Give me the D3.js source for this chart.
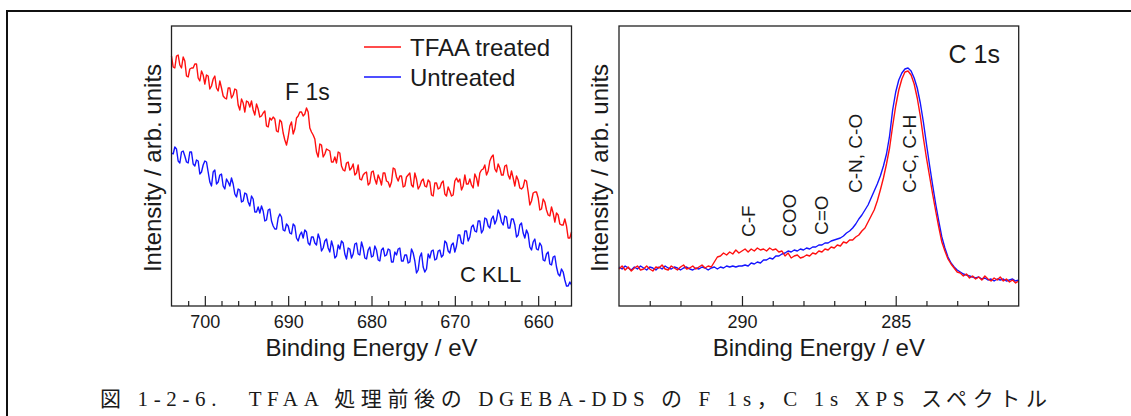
<!DOCTYPE html>
<html>
<head>
<meta charset="utf-8">
<script src="https://cdn.jsdelivr.net/npm/d3@7"></script>
<style>
body { margin: 0; background: #fff; }
svg text { font-family: "Liberation Sans", Arial, sans-serif; fill: #1a1a1a; }
</style>
</head>
<body>
<div id="chart"></div>
<script>
const width = 1131, height = 416

// F 1s / C KLL region : 704 -> 656 eV, 0.2 eV step
const f1sStart = 704
const f1sStep = 0.2
const f1sTreated = [
	250, 239, 238, 250, 251, 241, 238, 249, 245, 230, 229, 237, 238, 238, 242, 242, 228, 225, 235, 231,
	222, 231, 230, 217, 220, 227, 230, 218, 215, 225, 218, 210, 208, 207, 218, 218, 208, 211, 217, 216,
	201, 196, 207, 203, 194, 205, 204, 199, 205, 196, 191, 202, 197, 189, 190, 193, 195, 180, 179, 188,
	186, 189, 187, 175, 174, 186, 184, 173, 166, 161, 169, 180, 184, 172, 177, 188, 190, 194, 194, 190,
	192, 198, 194, 178, 174, 171, 167, 154, 149, 162, 161, 149, 152, 157, 156, 155, 144, 144, 149, 143,
	154, 153, 140, 136, 135, 143, 144, 136, 138, 142, 131, 133, 141, 127, 126, 131, 133, 134, 121, 123,
	134, 135, 127, 122, 131, 127, 121, 133, 133, 125, 124, 119, 124, 138, 137, 129, 125, 130, 130, 119,
	120, 129, 131, 133, 121, 119, 133, 127, 117, 120, 125, 127, 120, 119, 126, 124, 111, 110, 123, 123,
	117, 118, 123, 125, 112, 110, 119, 115, 110, 111, 125, 128, 124, 127, 116, 120, 131, 122, 122, 127,
	121, 118, 132, 128, 120, 133, 136, 137, 141, 131, 135, 145, 149, 151, 137, 134, 142, 138, 131, 131,
	140, 141, 131, 127, 135, 128, 120, 130, 126, 118, 117, 119, 126, 125, 114, 101, 105, 113, 114, 114,
	108, 96, 97, 107, 104, 96, 91, 90, 99, 93, 84, 93, 91, 82, 81, 81, 87, 80, 68, 68,
	74
]
const f1sUntreated = [
	153, 152, 159, 157, 145, 143, 154, 155, 150, 144, 143, 154, 154, 142, 140, 146, 145, 132, 134, 141,
	145, 144, 134, 124, 120, 134, 136, 122, 124, 131, 132, 120, 117, 127, 124, 120, 128, 122, 112, 109,
	117, 116, 104, 105, 113, 112, 104, 100, 110, 107, 94, 94, 99, 93, 100, 95, 85, 86, 96, 97,
	85, 80, 77, 77, 88, 92, 89, 76, 75, 82, 80, 73, 72, 82, 80, 68, 65, 71, 74, 68,
	76, 74, 63, 61, 69, 69, 63, 61, 72, 67, 55, 58, 65, 67, 58, 54, 65, 59, 48, 50,
	61, 57, 65, 63, 52, 47, 58, 57, 48, 52, 62, 63, 52, 51, 64, 58, 48, 47, 56, 59,
	49, 50, 60, 56, 46, 45, 56, 58, 50, 51, 57, 56, 44, 44, 54, 51, 57, 58, 45, 45,
	51, 51, 43, 44, 57, 53, 45, 33, 36, 49, 53, 39, 34, 37, 52, 48, 55, 56, 46, 47,
	55, 56, 49, 51, 65, 63, 55, 53, 61, 63, 54, 60, 71, 71, 63, 62, 75, 75, 65, 69,
	79, 81, 75, 74, 85, 85, 73, 76, 88, 87, 80, 78, 87, 90, 82, 86, 96, 92, 84, 81,
	90, 89, 78, 78, 87, 87, 81, 69, 71, 81, 83, 73, 68, 76, 72, 59, 56, 64, 67, 57,
	56, 63, 60, 46, 45, 52, 54, 42, 41, 49, 50, 39, 32, 30, 37, 34, 26, 20, 20, 24,
	21
]

// C 1s region : 294 -> 281 eV, 0.1 eV step
const c1sStart = 294
const c1sStep = 0.1
const c1sTreated = [
	37, 40, 36, 39, 35, 38, 40, 36, 37, 40, 37, 35, 39, 38, 41, 37, 36, 40, 38, 36,
	39, 41, 37, 38, 40, 37, 39, 41, 38, 40, 39, 44, 49, 50, 53, 51, 54, 52, 56, 53,
	55, 57, 54, 57, 55, 58, 56, 57, 55, 58, 56, 57, 54, 55, 50, 53, 48, 50, 51, 48,
	49, 51, 50, 53, 52, 55, 54, 57, 56, 59, 58, 61, 60, 64, 63, 66, 66, 69, 71, 75,
	78, 84, 90, 96, 105, 116, 128, 142, 158, 180, 200, 216, 227, 234, 235, 231, 222, 208, 190, 168,
	148, 130, 112, 95, 79, 64, 55, 47, 42, 38, 34, 33, 30, 32, 28, 30, 27, 29, 26, 30,
	27, 25, 28, 26, 29, 25, 27, 24, 26, 23, 25
]
const c1sUntreated = [
	39, 37, 40, 38, 36, 39, 37, 40, 38, 36, 39, 38, 36, 39, 37, 40, 38, 37, 39, 38,
	36, 38, 39, 37, 36, 38, 37, 39, 38, 36, 38, 39, 37, 39, 38, 40, 39, 40, 39, 40,
	40, 41, 40, 43, 42, 44, 43, 46, 46, 48, 47, 50, 50, 52, 53, 55, 54, 56, 55, 57,
	56, 58, 57, 59, 59, 61, 61, 63, 63, 65, 66, 67, 68, 70, 73, 75, 78, 82, 87, 91,
	96, 101, 108, 115, 122, 130, 140, 152, 170, 196, 214, 226, 233, 237, 238, 235, 228, 218, 203, 184,
	162, 141, 121, 102, 85, 69, 58, 49, 43, 39, 36, 34, 32, 31, 30, 29, 28, 29, 27, 28,
	26, 27, 25, 27, 26, 27, 25, 26, 27, 25, 26
]

const f1sMajor = [700, 690, 680, 670, 660]
const f1sMinor = [702, 698, 696, 694, 692, 688, 686, 684, 682, 678, 676, 674, 672, 668, 666, 664, 662, 658]
const c1sMajor = [290, 285]
const c1sMinor = [293, 292, 291, 289, 288, 287, 286, 284, 283, 282]

const seriesNames = ['TFAA treated', 'Untreated']

// chemical state labels on the C 1s panel (energy of label, intensity where label starts)
const peakLabels = ['C-F', 'COO', 'C=O', 'C-N, C-O', 'C-C, C-H']
const peakEnergies = [289.8, 288.48, 287.44, 286.32, 284.56]
const peakLabelBase = [69, 69, 71, 113, 113]

const caption = '図 1-2-6.　TFAA 処理前後の DGEBA-DDS の F 1s，C 1s XPS スペクトル'

const red = '#ff1010'
const blue = '#1414ff'

const toPoints = (start, step, values) => values.map((v, i) => [start - i * step, v])

const svg = d3.select('#chart')
.append('svg')
.attr('width', width)
.attr('height', height)

// outer figure frame (runs off the right and bottom of the picture)
svg.append('path')
.attr('d', 'M7,417 L7,11 L1135,11')
.attr('fill', 'none')
.attr('stroke', '#111')
.attr('stroke-width', 2)

const plotTop = 26, plotBottom = 306

const drawPanel = (cfg) => {

	let x = d3.scaleLinear()
	.domain(cfg.domain)
	.range([cfg.x0, cfg.x1])

	let y = d3.scaleLinear()
	.domain([0, 280])
	.range([plotBottom, plotTop])

	let g = svg.append('g')

	let line = d3.line()
	.x(d => x(d[0]))
	.y(d => y(d[1]))

	g.append('path')
	.datum(cfg.untreated)
	.attr('d', line)
	.attr('fill', 'none')
	.attr('stroke', blue)
	.attr('stroke-width', 1.4)
	.attr('stroke-linejoin', 'round')

	g.append('path')
	.datum(cfg.treated)
	.attr('d', line)
	.attr('fill', 'none')
	.attr('stroke', red)
	.attr('stroke-width', 1.4)
	.attr('stroke-linejoin', 'round')

	let major = g.append('g')
	.attr('transform', `translate(0,${plotBottom})`)
	.attr('color', '#222')
	.call(d3.axisBottom(x).tickValues(cfg.major).tickSize(-10).tickPadding(9).tickFormat(d3.format('d')))

	major.select('.domain').remove()
	major.selectAll('line').attr('stroke-width', 1.2)
	major.selectAll('text')
	.attr('font-size', 18)
	.attr('font-family', '"Liberation Sans", Arial, sans-serif')

	let minor = g.append('g')
	.attr('transform', `translate(0,${plotBottom})`)
	.attr('color', '#222')
	.call(d3.axisBottom(x).tickValues(cfg.minor).tickSize(-5).tickFormat(''))

	minor.select('.domain').remove()
	minor.selectAll('line').attr('stroke-width', 1.2)

	g.append('rect')
	.attr('x', cfg.x0)
	.attr('y', plotTop)
	.attr('width', cfg.x1 - cfg.x0)
	.attr('height', plotBottom - plotTop)
	.attr('fill', 'none')
	.attr('stroke', '#222')
	.attr('stroke-width', 1.3)

	g.append('text')
	.attr('x', (cfg.x0 + cfg.x1) / 2)
	.attr('y', 356)
	.attr('text-anchor', 'middle')
	.attr('font-size', 24)
	.text('Binding Energy / eV')

	g.append('text')
	.attr('transform', `translate(${cfg.x0 - 11},168) rotate(-90)`)
	.attr('text-anchor', 'middle')
	.attr('font-size', 24)
	.text('Intensity / arb. units')

	return { x, y, g }
}

const f1sPanel = drawPanel({
	domain: [704, 656], x0: 171.5, x1: 571.5,
	treated: toPoints(f1sStart, f1sStep, f1sTreated),
	untreated: toPoints(f1sStart, f1sStep, f1sUntreated),
	major: f1sMajor, minor: f1sMinor
})

const c1sPanel = drawPanel({
	domain: [294, 281], x0: 619, x1: 1018.7,
	treated: toPoints(c1sStart, c1sStep, c1sTreated),
	untreated: toPoints(c1sStart, c1sStep, c1sUntreated),
	major: c1sMajor, minor: c1sMinor
})

// legend
const legend = f1sPanel.g.append('g')

legend.selectAll('line')
.data(seriesNames)
.enter()
.append('line')
.attr('x1', 364)
.attr('x2', 401)
.attr('y1', (d, i) => 47 + i * 30)
.attr('y2', (d, i) => 47 + i * 30)
.attr('stroke', (d, i) => i === 0 ? red : blue)
.attr('stroke-width', 1.6)

legend.selectAll('text')
.data(seriesNames)
.enter()
.append('text')
.attr('x', 410)
.attr('y', (d, i) => 56 + i * 30)
.attr('font-size', 24)
.text(d => d)

f1sPanel.g.append('text')
.attr('x', 285)
.attr('y', 100)
.attr('font-size', 23)
.text('F 1s')

f1sPanel.g.append('text')
.attr('x', 460)
.attr('y', 282)
.attr('font-size', 22)
.text('C KLL')

c1sPanel.g.append('text')
.attr('x', 1000)
.attr('y', 63)
.attr('text-anchor', 'end')
.attr('font-size', 25)
.text('C 1s')

c1sPanel.g.selectAll('.peak')
.data(peakLabels)
.enter()
.append('text')
.attr('class', 'peak')
.attr('transform', (d, i) => `translate(${c1sPanel.x(peakEnergies[i]) + 7},${c1sPanel.y(peakLabelBase[i])}) rotate(-90)`)
.attr('font-size', 19)
.text(d => d)

// figure caption
svg.append('text')
.attr('x', 100)
.attr('y', 406)
.attr('font-size', 21)
.attr('textLength', 947)
.attr('lengthAdjust', 'spacing')
.style('font-family', '"Liberation Serif", "Noto Sans CJK JP", serif')
.text(caption)
</script>
</body>
</html>
